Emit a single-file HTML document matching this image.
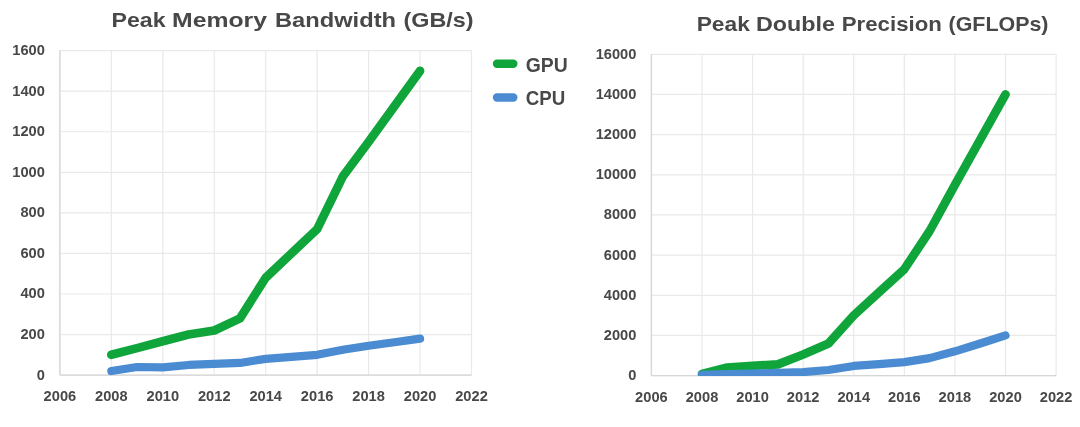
<!DOCTYPE html>
<html lang="en">
<head>
<meta charset="utf-8">
<title>Peak Memory Bandwidth and Peak Double Precision: GPU vs CPU</title>
<style>
html, body { margin: 0; padding: 0; background: #ffffff; }
body { width: 1080px; height: 427px; overflow: hidden; font-family: 'Liberation Sans', sans-serif; }
svg { display: block; }
text { font-family: 'Liberation Sans', sans-serif; fill: #484848; }
.ax { font-size: 14px; font-weight: bold; }
.title { font-size: 21px; font-weight: bold; }
.leg { font-size: 19.3px; font-weight: bold; }
</style>
</head>
<body>
<svg width="1080" height="427" viewBox="0 0 1080 427">
<rect x="0" y="0" width="1080" height="427" fill="#ffffff"/>
<text y="27" class="title"><tspan x="111.5" textLength="54.00" lengthAdjust="spacingAndGlyphs">Peak</tspan> <tspan x="172" textLength="95.00" lengthAdjust="spacingAndGlyphs">Memory</tspan> <tspan x="275" textLength="121.00" lengthAdjust="spacingAndGlyphs">Bandwidth</tspan> <tspan x="403.5" textLength="70.00" lengthAdjust="spacingAndGlyphs">(GB/s)</tspan></text>
<text y="31" class="title"><tspan x="696.7" textLength="53.10" lengthAdjust="spacingAndGlyphs">Peak</tspan> <tspan x="756" textLength="79.00" lengthAdjust="spacingAndGlyphs">Double</tspan> <tspan x="841.8" textLength="100.00" lengthAdjust="spacingAndGlyphs">Precision</tspan> <tspan x="948.5" textLength="100.00" lengthAdjust="spacingAndGlyphs">(GFLOPs)</tspan></text>
<line x1="59.90" y1="50.6" x2="59.90" y2="375.1" stroke="#e9e9e9" stroke-width="1.2"/>
<line x1="111.35" y1="50.6" x2="111.35" y2="375.1" stroke="#e9e9e9" stroke-width="1.2"/>
<line x1="162.80" y1="50.6" x2="162.80" y2="375.1" stroke="#e9e9e9" stroke-width="1.2"/>
<line x1="214.25" y1="50.6" x2="214.25" y2="375.1" stroke="#e9e9e9" stroke-width="1.2"/>
<line x1="265.70" y1="50.6" x2="265.70" y2="375.1" stroke="#e9e9e9" stroke-width="1.2"/>
<line x1="317.15" y1="50.6" x2="317.15" y2="375.1" stroke="#e9e9e9" stroke-width="1.2"/>
<line x1="368.60" y1="50.6" x2="368.60" y2="375.1" stroke="#e9e9e9" stroke-width="1.2"/>
<line x1="420.05" y1="50.6" x2="420.05" y2="375.1" stroke="#e9e9e9" stroke-width="1.2"/>
<line x1="471.50" y1="50.6" x2="471.50" y2="375.1" stroke="#e9e9e9" stroke-width="1.2"/>
<line x1="59.9" y1="375.10" x2="471.5" y2="375.10" stroke="#e9e9e9" stroke-width="1.2"/>
<line x1="59.9" y1="334.54" x2="471.5" y2="334.54" stroke="#e9e9e9" stroke-width="1.2"/>
<line x1="59.9" y1="293.98" x2="471.5" y2="293.98" stroke="#e9e9e9" stroke-width="1.2"/>
<line x1="59.9" y1="253.41" x2="471.5" y2="253.41" stroke="#e9e9e9" stroke-width="1.2"/>
<line x1="59.9" y1="212.85" x2="471.5" y2="212.85" stroke="#e9e9e9" stroke-width="1.2"/>
<line x1="59.9" y1="172.29" x2="471.5" y2="172.29" stroke="#e9e9e9" stroke-width="1.2"/>
<line x1="59.9" y1="131.73" x2="471.5" y2="131.73" stroke="#e9e9e9" stroke-width="1.2"/>
<line x1="59.9" y1="91.16" x2="471.5" y2="91.16" stroke="#e9e9e9" stroke-width="1.2"/>
<line x1="59.9" y1="50.60" x2="471.5" y2="50.60" stroke="#e9e9e9" stroke-width="1.2"/>
<line x1="59.9" y1="375.1" x2="471.5" y2="375.1" stroke="#d6d6d6" stroke-width="1.3"/>
<line x1="59.9" y1="50.6" x2="59.9" y2="375.1" stroke="#d6d6d6" stroke-width="1.3"/>
<text x="36.75" y="379.55" class="ax" textLength="8.15" lengthAdjust="spacingAndGlyphs">0</text>
<text x="20.45" y="338.99" class="ax" textLength="24.45" lengthAdjust="spacingAndGlyphs">200</text>
<text x="20.45" y="298.43" class="ax" textLength="24.45" lengthAdjust="spacingAndGlyphs">400</text>
<text x="20.45" y="257.86" class="ax" textLength="24.45" lengthAdjust="spacingAndGlyphs">600</text>
<text x="20.45" y="217.30" class="ax" textLength="24.45" lengthAdjust="spacingAndGlyphs">800</text>
<text x="12.30" y="176.74" class="ax" textLength="32.60" lengthAdjust="spacingAndGlyphs">1000</text>
<text x="12.30" y="136.18" class="ax" textLength="32.60" lengthAdjust="spacingAndGlyphs">1200</text>
<text x="12.30" y="95.61" class="ax" textLength="32.60" lengthAdjust="spacingAndGlyphs">1400</text>
<text x="12.30" y="55.05" class="ax" textLength="32.60" lengthAdjust="spacingAndGlyphs">1600</text>
<text x="43.60" y="401.20" class="ax" textLength="32.6" lengthAdjust="spacingAndGlyphs">2006</text>
<text x="95.05" y="401.20" class="ax" textLength="32.6" lengthAdjust="spacingAndGlyphs">2008</text>
<text x="146.50" y="401.20" class="ax" textLength="32.6" lengthAdjust="spacingAndGlyphs">2010</text>
<text x="197.95" y="401.20" class="ax" textLength="32.6" lengthAdjust="spacingAndGlyphs">2012</text>
<text x="249.40" y="401.20" class="ax" textLength="32.6" lengthAdjust="spacingAndGlyphs">2014</text>
<text x="300.85" y="401.20" class="ax" textLength="32.6" lengthAdjust="spacingAndGlyphs">2016</text>
<text x="352.30" y="401.20" class="ax" textLength="32.6" lengthAdjust="spacingAndGlyphs">2018</text>
<text x="403.75" y="401.20" class="ax" textLength="32.6" lengthAdjust="spacingAndGlyphs">2020</text>
<text x="455.20" y="401.20" class="ax" textLength="32.6" lengthAdjust="spacingAndGlyphs">2022</text>
<clipPath id="c1"><rect x="59.9" y="50.6" width="411.6" height="325.0"/></clipPath>
<g clip-path="url(#c1)" fill="none" stroke-linecap="round" stroke-linejoin="round">
<polyline points="111.35,354.82 137.08,348.13 162.80,341.23 188.53,334.54 214.25,330.48 239.98,318.31 265.70,277.75 291.43,253.41 317.15,229.08 342.88,176.34 368.60,141.87 394.32,106.37 420.05,70.88" stroke="#10a53b" stroke-width="8.7"/>
<polyline points="111.35,371.04 137.08,366.99 162.80,367.39 188.53,364.96 214.25,363.95 239.98,362.93 265.70,358.88 291.43,356.85 317.15,354.82 342.88,349.75 368.60,345.69 394.32,342.24 420.05,338.59" stroke="#4a8bd2" stroke-width="8.2"/>
</g>
<line x1="651.40" y1="54.3" x2="651.40" y2="375.6" stroke="#e9e9e9" stroke-width="1.2"/>
<line x1="701.99" y1="54.3" x2="701.99" y2="375.6" stroke="#e9e9e9" stroke-width="1.2"/>
<line x1="752.57" y1="54.3" x2="752.57" y2="375.6" stroke="#e9e9e9" stroke-width="1.2"/>
<line x1="803.16" y1="54.3" x2="803.16" y2="375.6" stroke="#e9e9e9" stroke-width="1.2"/>
<line x1="853.75" y1="54.3" x2="853.75" y2="375.6" stroke="#e9e9e9" stroke-width="1.2"/>
<line x1="904.34" y1="54.3" x2="904.34" y2="375.6" stroke="#e9e9e9" stroke-width="1.2"/>
<line x1="954.92" y1="54.3" x2="954.92" y2="375.6" stroke="#e9e9e9" stroke-width="1.2"/>
<line x1="1005.51" y1="54.3" x2="1005.51" y2="375.6" stroke="#e9e9e9" stroke-width="1.2"/>
<line x1="1056.10" y1="54.3" x2="1056.10" y2="375.6" stroke="#e9e9e9" stroke-width="1.2"/>
<line x1="651.4" y1="375.60" x2="1056.1" y2="375.60" stroke="#e9e9e9" stroke-width="1.2"/>
<line x1="651.4" y1="335.44" x2="1056.1" y2="335.44" stroke="#e9e9e9" stroke-width="1.2"/>
<line x1="651.4" y1="295.28" x2="1056.1" y2="295.28" stroke="#e9e9e9" stroke-width="1.2"/>
<line x1="651.4" y1="255.11" x2="1056.1" y2="255.11" stroke="#e9e9e9" stroke-width="1.2"/>
<line x1="651.4" y1="214.95" x2="1056.1" y2="214.95" stroke="#e9e9e9" stroke-width="1.2"/>
<line x1="651.4" y1="174.79" x2="1056.1" y2="174.79" stroke="#e9e9e9" stroke-width="1.2"/>
<line x1="651.4" y1="134.62" x2="1056.1" y2="134.62" stroke="#e9e9e9" stroke-width="1.2"/>
<line x1="651.4" y1="94.46" x2="1056.1" y2="94.46" stroke="#e9e9e9" stroke-width="1.2"/>
<line x1="651.4" y1="54.30" x2="1056.1" y2="54.30" stroke="#e9e9e9" stroke-width="1.2"/>
<line x1="651.4" y1="375.6" x2="1056.1" y2="375.6" stroke="#d6d6d6" stroke-width="1.3"/>
<line x1="651.4" y1="54.3" x2="651.4" y2="375.6" stroke="#d6d6d6" stroke-width="1.3"/>
<text x="628.25" y="380.05" class="ax" textLength="8.15" lengthAdjust="spacingAndGlyphs">0</text>
<text x="603.80" y="339.89" class="ax" textLength="32.60" lengthAdjust="spacingAndGlyphs">2000</text>
<text x="603.80" y="299.73" class="ax" textLength="32.60" lengthAdjust="spacingAndGlyphs">4000</text>
<text x="603.80" y="259.56" class="ax" textLength="32.60" lengthAdjust="spacingAndGlyphs">6000</text>
<text x="603.80" y="219.40" class="ax" textLength="32.60" lengthAdjust="spacingAndGlyphs">8000</text>
<text x="595.65" y="179.24" class="ax" textLength="40.75" lengthAdjust="spacingAndGlyphs">10000</text>
<text x="595.65" y="139.07" class="ax" textLength="40.75" lengthAdjust="spacingAndGlyphs">12000</text>
<text x="595.65" y="98.91" class="ax" textLength="40.75" lengthAdjust="spacingAndGlyphs">14000</text>
<text x="595.65" y="58.75" class="ax" textLength="40.75" lengthAdjust="spacingAndGlyphs">16000</text>
<text x="635.10" y="401.70" class="ax" textLength="32.6" lengthAdjust="spacingAndGlyphs">2006</text>
<text x="685.69" y="401.70" class="ax" textLength="32.6" lengthAdjust="spacingAndGlyphs">2008</text>
<text x="736.27" y="401.70" class="ax" textLength="32.6" lengthAdjust="spacingAndGlyphs">2010</text>
<text x="786.86" y="401.70" class="ax" textLength="32.6" lengthAdjust="spacingAndGlyphs">2012</text>
<text x="837.45" y="401.70" class="ax" textLength="32.6" lengthAdjust="spacingAndGlyphs">2014</text>
<text x="888.04" y="401.70" class="ax" textLength="32.6" lengthAdjust="spacingAndGlyphs">2016</text>
<text x="938.62" y="401.70" class="ax" textLength="32.6" lengthAdjust="spacingAndGlyphs">2018</text>
<text x="989.21" y="401.70" class="ax" textLength="32.6" lengthAdjust="spacingAndGlyphs">2020</text>
<text x="1039.80" y="401.70" class="ax" textLength="32.6" lengthAdjust="spacingAndGlyphs">2022</text>
<clipPath id="c2"><rect x="651.4" y="54.3" width="404.69999999999993" height="321.8"/></clipPath>
<g clip-path="url(#c2)" fill="none" stroke-linecap="round" stroke-linejoin="round">
<polyline points="701.99,373.99 727.28,367.57 752.57,365.96 777.87,364.35 803.16,354.51 828.46,343.47 853.75,315.36 879.04,292.26 904.34,269.17 929.63,231.02 954.92,184.83 980.22,139.65 1005.51,94.46" stroke="#10a53b" stroke-width="8.7"/>
<polyline points="701.99,374.80 727.28,373.99 752.57,373.49 777.87,372.89 803.16,372.09 828.46,369.98 853.75,365.96 879.04,364.15 904.34,362.15 929.63,358.13 954.92,351.30 980.22,343.47 1005.51,335.44" stroke="#4a8bd2" stroke-width="8.2"/>
</g>
<g stroke-linecap="round" stroke-width="8.4" fill="none">
<line x1="497" y1="63.7" x2="513.3" y2="63.7" stroke="#10a53b"/>
<line x1="497" y1="97.5" x2="513.3" y2="97.5" stroke="#4a8bd2"/>
</g>
<text x="525.8" y="71.8" class="leg" textLength="42" lengthAdjust="spacingAndGlyphs">GPU</text>
<text x="525.8" y="104.6" class="leg" textLength="39.5" lengthAdjust="spacingAndGlyphs">CPU</text>
</svg>
</body>
</html>
